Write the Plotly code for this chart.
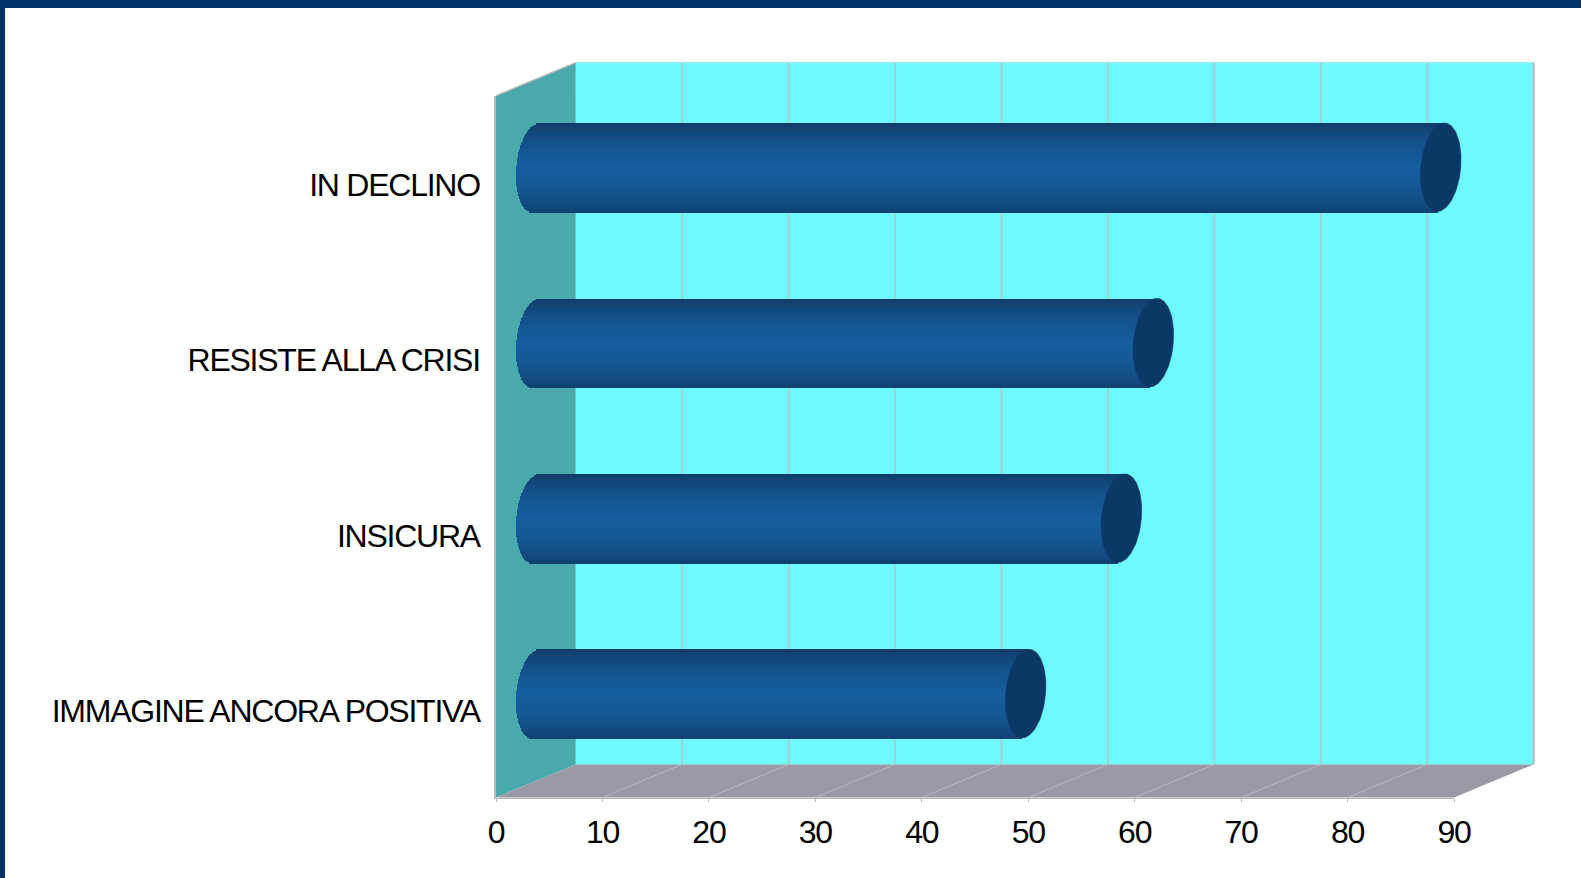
import numpy as np
import plotly.graph_objects as go

# ---- data ----
categories = ["IMMAGINE ANCORA POSITIVA", "INSICURA", "RESISTE ALLA CRISI", "IN DECLINO"]
values = [46, 55, 58, 85]
x_ticks = [0, 10, 20, 30, 40, 50, 60, 70, 80, 90]

# ---- geometry (pixels) ----
W, H = 1581, 878
FX0, FX1 = 496.0, 1454.0      # front plane 0..90
FY_TOP, FY_BOT = 95.8, 797.6  # front plane top/bottom
DX, DY = 79.7, 33.2           # depth offset of the back wall
MIDX, MIDY = 40.0, 16.3       # depth offset of the bars
BAR_PX = 88.7
RX_PX, SKEW_PX = 20.0, 3.5
N_STRIPS = 64
X2_MIN = -5.0                 # room for the rounded left end of the bars
LABEL_NUDGE = 1 / 175.45

PXU = (FX1 - FX0) / 90.0
BAND = (FY_BOT - FY_TOP) / 4.0
bar_w = BAR_PX / BAND
rx = RX_PX / PXU
skew = SKEW_PX / PXU


def px(x):
    return x / W


def py(y):
    return 1 - y / H


def dom_y(dy):
    return [py(FY_BOT - dy), py(FY_TOP - dy)]


def poly(points):
    return "M" + " L".join(f"{px(a):.5f},{py(b):.5f}" for a, b in points) + " Z"


def hex2rgb(h):
    return [int(h[i:i + 2], 16) for i in (1, 3, 5)]


stops = [(0.0, "#0f3a68"), (0.06, "#124474"), (0.20, "#13508a"), (0.50, "#155fa1"),
         (0.75, "#145690"), (0.93, "#124a80"), (1.0, "#0f4070")]


def grad(t):
    pos = [s[0] for s in stops]
    rgb = np.array([hex2rgb(s[1]) for s in stops], dtype=float)
    c = [np.interp(t, pos, rgb[:, k]) for k in range(3)]
    return "rgb(%d,%d,%d)" % tuple(int(round(v)) for v in c)


CYAN = "#6ffaff"
WALL = "#4aa9ab"
FLOOR = "#9a9aa6"
NAVY = "#02346a"
EDGE = "#b9b9b9"
GRID = "#9dd3d4"

shapes = [
    dict(type="path", path=poly([(FX0 + DX, FY_TOP - DY), (FX1 + DX, FY_TOP - DY),
                                 (FX1 + DX, FY_BOT - DY), (FX0 + DX, FY_BOT - DY)]),
         xref="paper", yref="paper", fillcolor=CYAN, line_width=0, layer="below"),
    dict(type="path", path=poly([(FX0, FY_TOP), (FX0 + DX, FY_TOP - DY),
                                 (FX0 + DX, FY_BOT - DY), (FX0, FY_BOT)]),
         xref="paper", yref="paper", fillcolor=WALL, line_width=0, layer="below"),
    dict(type="path", path=poly([(FX0, FY_BOT), (FX0 + DX, FY_BOT - DY),
                                 (FX1 + DX, FY_BOT - DY), (FX1, FY_BOT)]),
         xref="paper", yref="paper", fillcolor=FLOOR, line_width=0, layer="below"),
    # wall edges
    dict(type="line", x0=px(FX0), y0=py(FY_TOP), x1=px(FX0 + DX), y1=py(FY_TOP - DY),
         xref="paper", yref="paper", line=dict(color=EDGE, width=1.5), layer="below"),
    dict(type="line", x0=px(FX1 + DX), y0=py(FY_TOP - DY), x1=px(FX1 + DX), y1=py(FY_BOT - DY),
         xref="paper", yref="paper", line=dict(color=EDGE, width=2), layer="below"),
    dict(type="line", x0=px(FX0 + DX), y0=py(FY_TOP - DY), x1=px(FX1 + DX), y1=py(FY_TOP - DY),
         xref="paper", yref="paper", line=dict(color="#a8e8ea", width=1), layer="below"),
    # page border
    dict(type="rect", x0=0, x1=1, y0=py(8), y1=1, xref="paper", yref="paper",
         fillcolor=NAVY, line_width=0, layer="above"),
    dict(type="rect", x0=0, x1=px(5), y0=0, y1=1, xref="paper", yref="paper",
         fillcolor=NAVY, line_width=0, layer="above"),
]
# floor diagonals and back-wall grid lines, one per tick
for t in x_ticks[1:-1]:
    xf = FX0 + t * PXU
    shapes.append(dict(type="line", x0=px(xf), y0=py(FY_BOT), x1=px(xf + DX), y1=py(FY_BOT - DY),
                       xref="paper", yref="paper", line=dict(color="#b9b9c2", width=1), layer="below"))
    shapes.append(dict(type="line", x0=px(xf + DX), y0=py(FY_BOT - DY), x1=px(xf + DX), y1=py(FY_TOP - DY),
                       xref="paper", yref="paper", line=dict(color=GRID, width=2), layer="below"))

fig = go.Figure()

# front axes carry the ticks and labels
fig.add_trace(go.Scatter(x=[x_ticks[0]], y=[0], mode="none", xaxis="x", yaxis="y",
                         showlegend=False, hoverinfo="skip"))

# cylinder bodies, built as thin horizontal bars on axes shifted to mid depth
strip_h = bar_w / N_STRIPS
for i, (cat, val) in enumerate(zip(categories, values)):
    ys, bases, lens, cols = [], [], [], []
    for k in range(N_STRIPS):
        t = (k + 0.5) / N_STRIPS          # 0 = top, 1 = bottom
        u = 1 - 2 * t
        left = skew * u - rx * np.sqrt(max(0.0, 1 - u * u))
        right = val + skew * u
        ys.append(i + u * bar_w / 2)
        bases.append(left)
        lens.append(right - left)
        cols.append(grad(t))
    fig.add_trace(go.Bar(x=lens, y=ys, base=bases, orientation="h", width=strip_h * 1.35,
                         marker=dict(color=cols, line_width=0), xaxis="x2", yaxis="y2",
                         name=cat, showlegend=False, hoverinfo="skip"))

# end caps
theta = np.linspace(0, 2 * np.pi, 121)
for i, (cat, val) in enumerate(zip(categories, values)):
    fig.add_trace(go.Scatter(
        x=val + rx * np.cos(theta) + skew * np.sin(theta),
        y=i + bar_w / 2 * np.sin(theta),
        mode="lines", fill="toself", fillcolor="#0c3866",
        line=dict(color="#0c3866", width=0.5),
        xaxis="x2", yaxis="y2", showlegend=False, hoverinfo="skip"))

FONT_Y = dict(family="Liberation Sans, Arial, sans-serif", size=32, color="#000000")
FONT_X = dict(family="Liberation Sans, Arial, sans-serif", size=32, color="#000000")

fig.update_layout(
    width=W, height=H, autosize=False,
    margin=dict(l=0, r=0, t=0, b=0),
    paper_bgcolor="white", plot_bgcolor="rgba(0,0,0,0)",
    barmode="overlay", bargap=0, showlegend=False,
    shapes=shapes,
    xaxis=dict(domain=[px(FX0), px(FX1)], range=[0, 90], anchor="y", tickmode="array",
               tickvals=x_ticks, ticktext=[str(t) for t in x_ticks], tickfont=FONT_X,
               automargin=False, showgrid=False, zeroline=False, showline=True,
               linecolor=EDGE, linewidth=1,
               ticks="outside", ticklen=3, tickcolor=EDGE, ticklabelstandoff=3),
    yaxis=dict(domain=dom_y(0), range=[-0.5, 3.5], anchor="x", tickmode="array",
               tickvals=[i - LABEL_NUDGE for i in range(len(categories))], ticktext=categories,
               tickfont=FONT_Y, automargin=False, showgrid=False, zeroline=False, showline=True,
               linecolor=EDGE, linewidth=1.5, ticks="", ticklabelstandoff=8),
    xaxis2=dict(domain=[px(FX0 + MIDX + X2_MIN * PXU), px(FX1 + MIDX)], range=[X2_MIN, 90],
                anchor="y2", visible=False, automargin=False),
    yaxis2=dict(domain=dom_y(MIDY), range=[-0.5, 3.5], anchor="x2", visible=False, automargin=False),
)

post = """
document.body.style.margin='0';document.body.style.overflow='hidden';
document.querySelectorAll('.xtick text, .ytick text').forEach(function(t){t.style.letterSpacing='-1.25px';});
"""
fig.write_html("out.html", config=dict(displayModeBar=False), post_script=post)
